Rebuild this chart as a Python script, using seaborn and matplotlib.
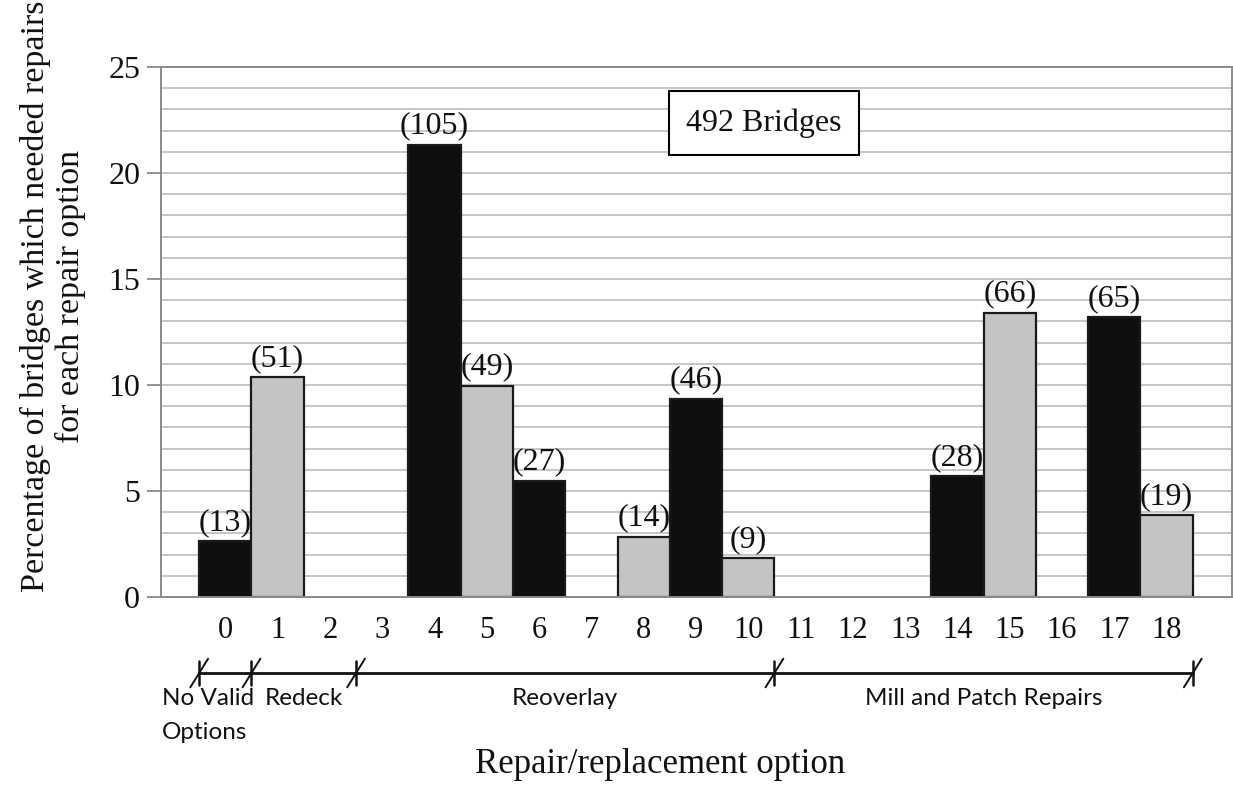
import pandas as pd
import seaborn as sns
import matplotlib.pyplot as plt
from matplotlib.lines import Line2D
from matplotlib.ticker import MultipleLocator

# -----------------------------
# Repair/replacement options for 492 bridges
# -----------------------------

options = [str(i) for i in range(19)]
bar_options = ["0", "1", "4", "5", "6", "8", "9", "10", "14", "15", "17", "18"]
bar_percent = [2.64, 10.37, 21.34, 9.96, 5.49, 2.85, 9.35, 1.83, 5.69, 13.41, 13.21, 3.86]
bar_counts = [13, 51, 105, 49, 27, 14, 46, 9, 28, 66, 65, 19]
bar_shade = ["dark", "light", "dark", "light", "dark", "light",
             "dark", "light", "dark", "light", "dark", "light"]

group_names = ["No Valid\nOptions", "Redeck", "Reoverlay", "Mill and Patch Repairs"]
group_edges = [-0.5, 0.5, 2.5, 10.5, 18.5]
total_label = "492 Bridges"


def build_frame() -> pd.DataFrame:
    return pd.DataFrame({
        "option": bar_options,
        "percent": bar_percent,
        "count": bar_counts,
        "shade": bar_shade,
    })


def main():
    sns.set_style("white")
    plt.rcParams["font.family"] = ["Liberation Serif", "DejaVu Serif"]

    df = build_frame()

    fig = plt.figure(figsize=(12.33, 7.9), dpi=100)
    ax = fig.add_axes([0.1306, 0.2443, 0.8686, 0.6709])

    sns.barplot(data=df, x="option", y="percent", hue="shade", order=options,
                hue_order=["dark", "light"],
                palette={"dark": "#0e0e0e", "light": "#c4c4c4"},
                dodge=False, width=1.0, edgecolor="#1a1a1a", linewidth=1.6,
                legend=False, ax=ax)

    # count labels above each bar
    for opt, pct, cnt in zip(df["option"], df["percent"], df["count"]):
        ax.annotate(f"({cnt})", xy=(options.index(opt), pct), xytext=(0, 3),
                    textcoords="offset points", ha="center", va="bottom",
                    fontsize=23, color="#111111")

    ax.set_xlim(-1.23, 19.25)
    ax.set_ylim(0, 25)
    ax.yaxis.set_major_locator(MultipleLocator(5))
    ax.yaxis.set_minor_locator(MultipleLocator(1))
    ax.grid(axis="y", which="both", color="#c2c2c2", linewidth=1.3)
    ax.set_axisbelow(True)

    for side in ["left", "right", "top", "bottom"]:
        ax.spines[side].set_color("#8a8a8a")
        ax.spines[side].set_linewidth(1.4)

    ax.tick_params(axis="y", which="major", length=10, width=1.3, color="#8a8a8a",
                   direction="out", left=True, labelsize=23, pad=5,
                   labelcolor="#111111")
    ax.tick_params(axis="y", which="minor", length=0)
    ax.tick_params(axis="x", length=0, labelsize=22, pad=14, labelcolor="#111111")
    ax.set_xlabel("")
    ax.set_ylabel("")

    # total box
    ax.text(0.563, 0.894, total_label, transform=ax.transAxes, ha="center", va="center",
            fontsize=23, color="#111111",
            bbox=dict(boxstyle="square,pad=0.55", facecolor="white",
                      edgecolor="black", linewidth=1.5))

    # group bracket below the axis
    trans = ax.get_xaxis_transform()
    y_line = -0.1434
    ax.add_line(Line2D([group_edges[0], group_edges[-1]], [y_line, y_line],
                       transform=trans, color="#111111", linewidth=2, clip_on=False))
    for e in group_edges:
        ax.add_line(Line2D([e, e], [y_line - 0.022, y_line + 0.022], transform=trans,
                           color="#111111", linewidth=1.8, clip_on=False))
        ax.add_line(Line2D([e - 0.17, e + 0.17], [y_line - 0.027, y_line + 0.027],
                           transform=trans, color="#111111", linewidth=1.4, clip_on=False))

    label_x = [-1.22, 1.5, 6.5, 14.5]
    label_ha = ["left", "center", "center", "center"]
    for name, lx, ha in zip(group_names, label_x, label_ha):
        ax.text(lx, y_line - 0.028, name, transform=trans, ha=ha, va="top",
                multialignment="left", fontsize=17.5, family=["Lato", "DejaVu Sans"],
                linespacing=1.75, color="#111111")

    fig.text(0.535, 0.032, "Repair/replacement option", ha="center", va="center",
             fontsize=25, color="#111111")
    fig.text(0.043, 0.625,
             "Percentage of bridges which needed repairs\nfor each repair option",
             rotation=90, ha="center", va="center", multialignment="center",
             fontsize=24.5, linespacing=1.2, color="#111111")

    fig.savefig("out.png", dpi=100)
    plt.close(fig)


if __name__ == "__main__":
    main()
